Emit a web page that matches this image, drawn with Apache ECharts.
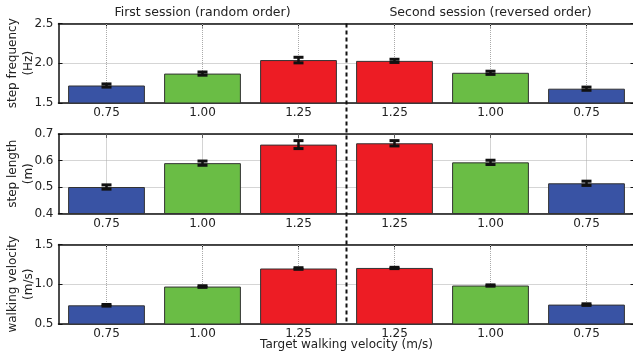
<!DOCTYPE html>
<html><head><meta charset="utf-8">
<script src="https://cdn.jsdelivr.net/npm/echarts@6/dist/echarts.min.js"></script>
<style>html,body{margin:0;padding:0;background:#fff}#c{width:633px;height:354px}</style>
</head><body><div id="c"></div>
<script>
const categories = ['s1_075','s1_100','s1_125','s2_125','s2_100','s2_075'];
const velocityLabels = ['0.75','1.00','1.25','1.25','1.00','0.75'];
const sessionTitles = ['First session (random order)','Second session (reversed order)'];
const xAxisTitle = 'Target walking velocity (m/s)';
const stepFrequency = [1.72,1.87,2.04,2.03,1.88,1.68];
const stepFrequencyErr = [0.02,0.02,0.035,0.02,0.02,0.02];
const stepLength = [0.50,0.59,0.66,0.665,0.593,0.514];
const stepLengthErr = [0.008,0.008,0.015,0.01,0.008,0.008];
const walkingVelocity = [0.735,0.971,1.198,1.205,0.984,0.744];
const walkingVelocityErr = [0.01,0.01,0.01,0.008,0.008,0.01];
const panelNames = ['step frequency\n(Hz)','step length\n(m)','walking velocity\n(m/s)'];
const yMin = [1.5,0.4,0.5];
const yMax = [2.5,0.7,1.5];
const yStep = [0.5,0.1,0.5];
const barColors = ['#3953a4','#6abd45','#ed1c24','#ed1c24','#6abd45','#3953a4'];

const panelValues = [stepFrequency, stepLength, walkingVelocity];
const panelErrs = [stepFrequencyErr, stepLengthErr, walkingVelocityErr];
const gridTops = [23.5, 134, 244.5];
const FONT = 'DejaVu Sans';
const TXT = '#222';

const chart = echarts.init(document.getElementById('c'), null, {renderer:'canvas'});
const grid = [], xAxis = [], yAxis = [], series = [];
for (let i = 0; i < 3; i++) {
  grid.push({left:58.5, width:576, top:gridTops[i], height:79.5, containLabel:false, outerBoundsMode:'none'});
  xAxis.push({
    type:'category', gridIndex:i, data:categories, position:'bottom',
    axisLine:{show:true, lineStyle:{color:'#111', width:1.5}},
    axisTick:{show:true, inside:true, alignWithLabel:true, length:4, lineStyle:{color:'#111'}},
    axisLabel:{show:true, margin:4, fontFamily:FONT, fontSize:12, color:TXT,
      formatter:(v) => velocityLabels[categories.indexOf(v)]},
    splitLine:{show:false},
    name: i === 2 ? xAxisTitle : '', nameLocation:'middle', nameGap:15, nameMoveOverlap:false,
    nameTextStyle:{fontFamily:FONT, fontSize:12, color:TXT}
  });
  xAxis.push({
    type:'category', gridIndex:i, data:categories, position:'top',
    axisLine:{show:true, lineStyle:{color:'#111', width:1.5}},
    axisTick:{show:true, inside:true, alignWithLabel:true, length:4, lineStyle:{color:'#111'}},
    axisLabel:{show:false}, splitLine:{show:false}
  });
  yAxis.push({
    type:'value', gridIndex:i, min:yMin[i], max:yMax[i], interval:yStep[i], position:'left',
    axisLine:{show:true, lineStyle:{color:'#111', width:1.5}},
    axisTick:{show:true, inside:true, length:4, lineStyle:{color:'#111'}},
    axisLabel:{margin:5, fontFamily:FONT, fontSize:12, color:TXT, formatter:v => v.toFixed(1)},
    splitLine:{show:true, lineStyle:{color:'#aaa', type:'dotted', width:1}},
    name:panelNames[i], nameLocation:'middle', nameRotate:90, nameGap:22, nameMoveOverlap:false,
    nameTextStyle:{fontFamily:FONT, fontSize:12, color:TXT, lineHeight:16}
  });
  yAxis.push({
    type:'value', gridIndex:i, min:yMin[i], max:yMax[i], interval:yStep[i], position:'right',
    axisLine:{show:true, lineStyle:{color:'#111', width:1.5}},
    axisTick:{show:true, inside:true, length:4, lineStyle:{color:'#111'}},
    axisLabel:{show:false}, splitLine:{show:false}
  });
  series.push({
    type:'line', xAxisIndex:2*i, yAxisIndex:2*i, data:[], z:1, silent:true,
    markLine:{silent:true, z:1, symbol:'none', label:{show:false},
      lineStyle:{color:'#aaa', type:'dotted', width:1},
      data:categories.map(c => ({xAxis:c}))}
  });
  series.push({
    type:'bar', xAxisIndex:2*i, yAxisIndex:2*i, z:6, barCategoryGap:'20%',
    data:panelValues[i].map((v, k) => ({value:v, itemStyle:{color:barColors[k]}})),
    itemStyle:{borderColor:'#333', borderWidth:1}
  });
  series.push({
    type:'custom', xAxisIndex:2*i, yAxisIndex:2*i, z:7,
    data:panelValues[i].map((v, k) => [k, v - panelErrs[i][k], v + panelErrs[i][k]]),
    encode:{x:0, y:[1,2]},
    renderItem:(params, api) => {
      const x = api.value(0);
      const pHi = api.coord([x, api.value(2)]);
      const pLo = api.coord([x, api.value(1)]);
      const hw = 5;
      const st = {stroke:'#111', lineWidth:3};
      return {type:'group', children:[
        {type:'line', shape:{x1:pHi[0], y1:pHi[1], x2:pLo[0], y2:pLo[1]}, style:{stroke:'#111', lineWidth:2.5}},
        {type:'line', shape:{x1:pHi[0]-hw, y1:pHi[1], x2:pHi[0]+hw, y2:pHi[1]}, style:st},
        {type:'line', shape:{x1:pLo[0]-hw, y1:pLo[1], x2:pLo[0]+hw, y2:pLo[1]}, style:st}
      ]};
    }
  });
}
chart.setOption({animation:false, grid, xAxis, yAxis, series});

const cx = k => chart.convertToPixel({xAxisIndex:0}, categories[k]);
const midX = (cx(2) + cx(3)) / 2;
const yTop = chart.convertToPixel({yAxisIndex:0}, yMax[0]);
const yBot = chart.convertToPixel({yAxisIndex:4}, yMin[2]);
chart.setOption({graphic:[
  {type:'line', z:100, shape:{x1:midX, y1:yTop, x2:midX, y2:yBot},
   style:{stroke:'#111', lineWidth:2, lineDash:[4,3]}},
  {type:'text', x:cx(1), y:yTop - 11, style:{text:sessionTitles[0], font:'12.5px "DejaVu Sans"', fill:TXT, align:'center', verticalAlign:'middle'}},
  {type:'text', x:cx(4), y:yTop - 11, style:{text:sessionTitles[1], font:'12.5px "DejaVu Sans"', fill:TXT, align:'center', verticalAlign:'middle'}}
]});
</script></body></html>
